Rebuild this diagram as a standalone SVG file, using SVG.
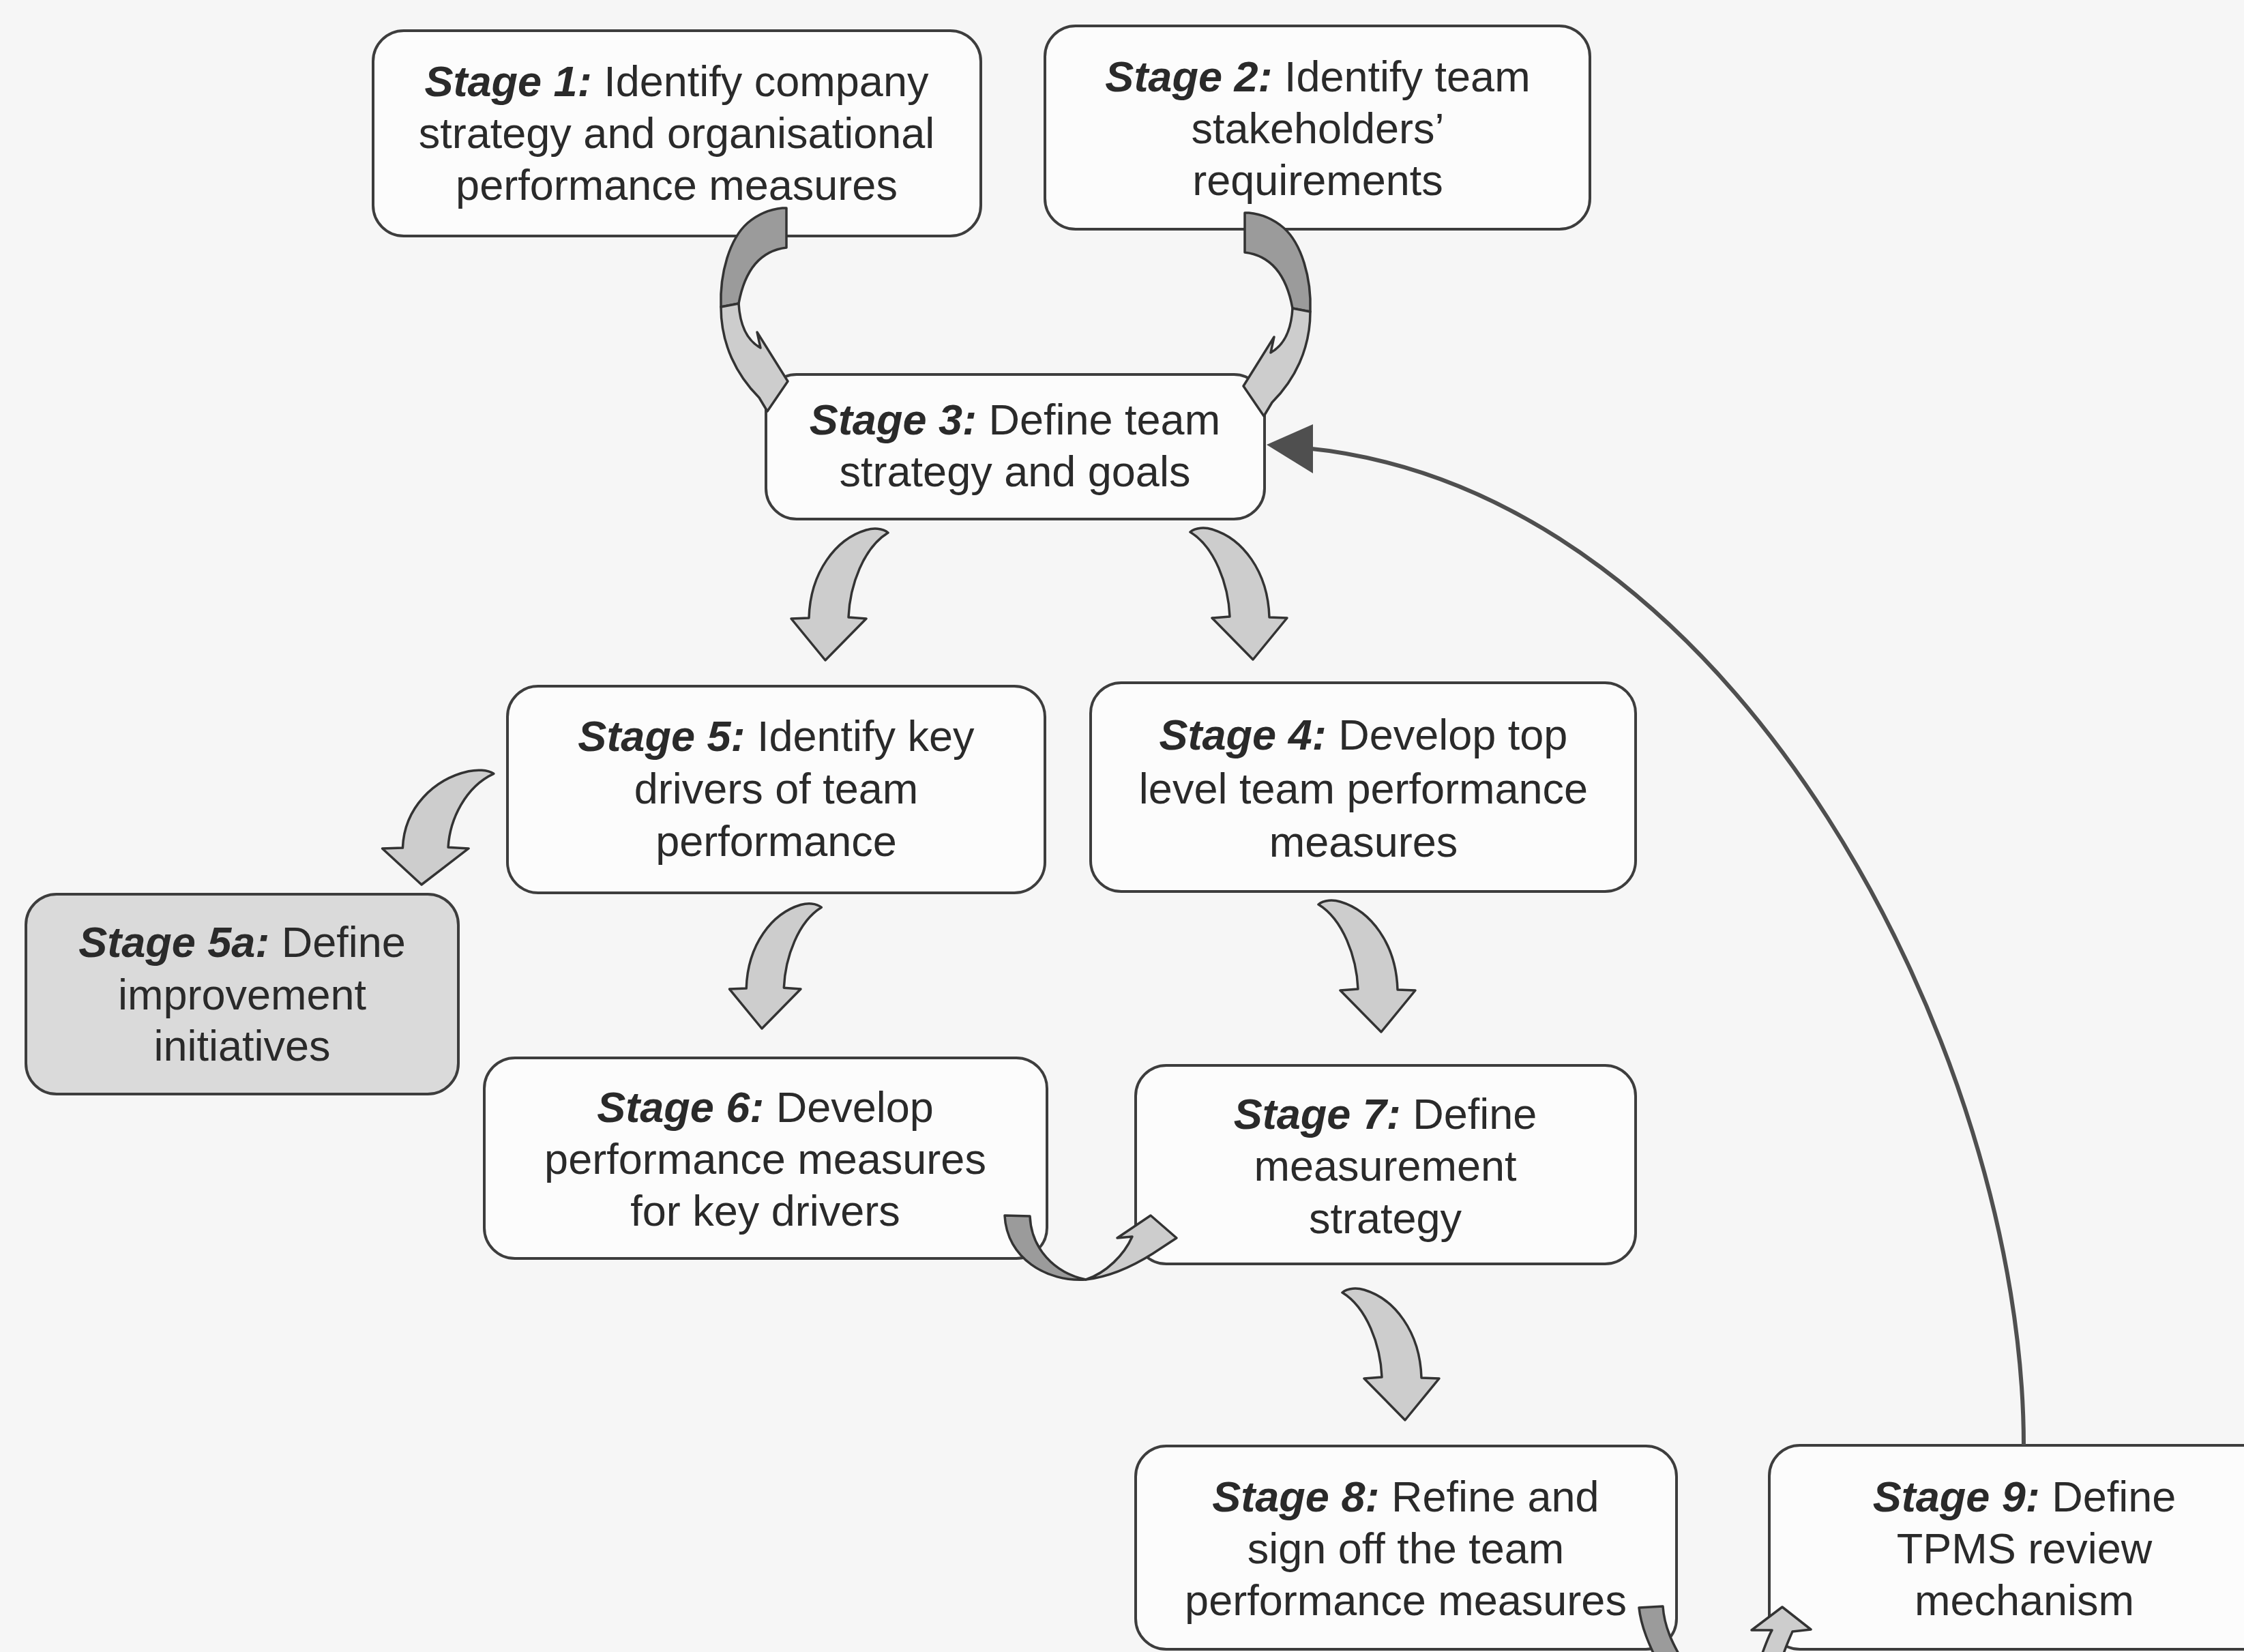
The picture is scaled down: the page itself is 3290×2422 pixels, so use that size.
<svg xmlns="http://www.w3.org/2000/svg" width="3290" height="2422" viewBox="0 0 3290 2422">
<style>
.bg{fill:#f6f6f6}
.box{fill:#fcfcfc;stroke:#3d3d3d;stroke-width:4}
.box.shaded{fill:#dadada}
.lbl{font-family:"Liberation Sans",Arial,sans-serif;font-size:63px;fill:#2a2a2a;text-anchor:middle}
.st{font-weight:bold;font-style:italic}
.front{fill:#cdcdcd;stroke:#333333;stroke-width:3.5;stroke-linejoin:round}
.back{fill:#9b9b9b;stroke:#333333;stroke-width:3.5;stroke-linejoin:round}
.loop{fill:none;stroke:#4f4f4f;stroke-width:6}
.loophead{fill:#4f4f4f}
</style>
<defs>
  <!-- bent block arrow, tip at origin, curving in from the upper left -->
  <path id="bent" vector-effect="non-scaling-stroke" d="M -92,-187 C -84,-194 -70,-194 -60,-191 C -16,-178 22,-130 24,-62 L 50,-61 L 0,0 L -60,-61 L -34,-63 C -36,-110 -56,-165 -92,-187 Z"/>
  <!-- side-bulging ribbon arrow: darker underside on top, light face with head below -->
  <g id="side">
    <path class="back" d="M -8,0 L -2,0 L -2,58 C -35,62 -62,85 -72,140 L -98,145 C -100,95 -85,45 -59,22 C -45,10 -28,2 -8,0 Z"/>
    <path class="front" d="M -98,145 C -98,200 -75,245 -42,278 L -30,298 L 0,254 L -45,182 L -40,205 C -58,195 -70,175 -72,140 Z"/>
  </g>
</defs>

<rect class="bg" x="0" y="0" width="3290" height="2422"/>

<g id="stage1">
  <rect class="box" x="547" y="45" width="891" height="301" rx="45"/>
  <text class="lbl"><tspan x="992" y="141"><tspan class="st">Stage 1:</tspan> Identify company</tspan><tspan x="992" y="217">strategy and organisational</tspan><tspan x="992" y="293">performance measures</tspan></text>
</g>
<g id="stage2">
  <rect class="box" x="1532" y="38" width="799" height="298" rx="45"/>
  <text class="lbl"><tspan x="1932" y="134"><tspan class="st">Stage 2:</tspan> Identify team</tspan><tspan x="1932" y="210">stakeholders’</tspan><tspan x="1932" y="286">requirements</tspan></text>
</g>
<g id="stage3">
  <rect class="box" x="1123" y="549" width="731" height="212" rx="45"/>
  <text class="lbl"><tspan x="1488" y="637"><tspan class="st">Stage 3:</tspan> Define team</tspan><tspan x="1488" y="713">strategy and goals</tspan></text>
</g>
<g id="stage5">
  <rect class="box" x="744" y="1006" width="788" height="303" rx="45"/>
  <text class="lbl"><tspan x="1138" y="1101"><tspan class="st">Stage 5:</tspan> Identify key</tspan><tspan x="1138" y="1178">drivers of team</tspan><tspan x="1138" y="1255">performance</tspan></text>
</g>
<g id="stage4">
  <rect class="box" x="1599" y="1001" width="799" height="306" rx="45"/>
  <text class="lbl"><tspan x="1999" y="1099"><tspan class="st">Stage 4:</tspan> Develop top</tspan><tspan x="1999" y="1178">level team performance</tspan><tspan x="1999" y="1256">measures</tspan></text>
</g>
<g id="stage5a">
  <rect class="box shaded" x="38" y="1311" width="634" height="293" rx="45"/>
  <text class="lbl"><tspan x="355" y="1403"><tspan class="st">Stage 5a:</tspan> Define</tspan><tspan x="355" y="1480">improvement</tspan><tspan x="355" y="1555">initiatives</tspan></text>
</g>
<g id="stage6">
  <rect class="box" x="710" y="1551" width="825" height="294" rx="45"/>
  <text class="lbl"><tspan x="1122" y="1645"><tspan class="st">Stage 6:</tspan> Develop</tspan><tspan x="1122" y="1721">performance measures</tspan><tspan x="1122" y="1797">for key drivers</tspan></text>
</g>
<g id="stage7">
  <rect class="box" x="1665" y="1562" width="733" height="291" rx="45"/>
  <text class="lbl"><tspan x="2031" y="1655"><tspan class="st">Stage 7:</tspan> Define</tspan><tspan x="2031" y="1731">measurement</tspan><tspan x="2031" y="1808">strategy</tspan></text>
</g>
<g id="stage8">
  <rect class="box" x="1665" y="2120" width="793" height="298" rx="45"/>
  <text class="lbl"><tspan x="2061" y="2216"><tspan class="st">Stage 8:</tspan> Refine and</tspan><tspan x="2061" y="2292">sign off the team</tspan><tspan x="2061" y="2368">performance measures</tspan></text>
</g>
<g id="stage9">
  <rect class="box" x="2594" y="2119" width="751" height="299" rx="45"/>
  <text class="lbl"><tspan x="2968" y="2216"><tspan class="st">Stage 9:</tspan> Define</tspan><tspan x="2968" y="2292">TPMS review</tspan><tspan x="2968" y="2368">mechanism</tspan></text>
</g>

<g id="connectors">
  <!-- stages 1 and 2 feed stage 3 -->
  <use href="#side" transform="translate(1155,305)"/>
  <use href="#side" transform="translate(1823,312) scale(-1,1)"/>
  <!-- stage 3 to stages 5 and 4 -->
  <use href="#bent" class="front" transform="translate(1210,968) scale(-1,1)"/>
  <use href="#bent" class="front" transform="translate(1837,967)"/>
  <!-- stage 5 to 5a and 6 -->
  <use href="#bent" class="front" transform="translate(618,1297) scale(-1.15,0.87)"/>
  <use href="#bent" class="front" transform="translate(1117,1508) scale(-0.95,0.95)"/>
  <!-- stage 4 to 7, stage 7 to 8 -->
  <use href="#bent" class="front" transform="translate(2025,1513)"/>
  <use href="#bent" class="front" transform="translate(2060,2082)"/>
  <!-- stage 6 to 7 U-turn -->
  <path class="back" d="M 1473,1782 L 1510,1783 C 1512,1830 1545,1866 1592,1876 C 1535,1880 1476,1845 1473,1782 Z"/>
  <path class="front" d="M 1592,1876 C 1627,1872 1660,1857 1690,1838 L 1725,1815 L 1687,1782 L 1638,1815 L 1660,1813 C 1648,1840 1622,1866 1592,1876 Z"/>
  <!-- stage 8 to 9 U-turn -->
  <path class="back" d="M 2403,2357 L 2438,2355 C 2440,2385 2452,2410 2470,2440 L 2432,2440 C 2418,2412 2406,2385 2403,2357 Z"/>
  <path class="front" d="M 2578,2440 C 2586,2418 2592,2400 2598,2390 L 2568,2390 L 2613,2356 L 2655,2389 L 2628,2392 C 2620,2410 2614,2425 2610,2440 Z"/>
  <!-- review loop from stage 9 back to stage 3 -->
  <path class="loop" d="M 2967,2119 C 2967,1550 2550,720 1915,657"/>
  <polygon class="loophead" points="1857,652 1925,622 1925,694"/>
</g>
</svg>
